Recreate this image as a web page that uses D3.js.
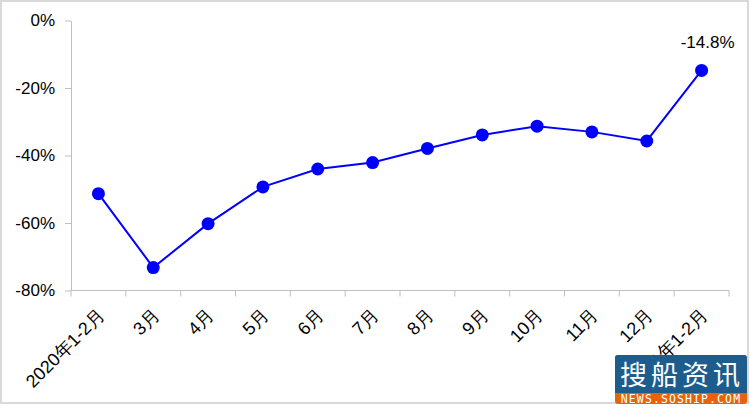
<!DOCTYPE html>
<html><head><meta charset="utf-8">
<script src="https://cdn.jsdelivr.net/npm/d3@7"></script>
<style>body{margin:0;background:#fff}svg{display:block}</style>
</head><body>
<script>
const categories = ["2020年1-2月","3月","4月","5月","6月","7月","8月","9月","10月","11月","12月","2021年1-2月"];
const values = [-51.3,-73.2,-60.2,-49.3,-44.0,-42.1,-37.9,-33.9,-31.3,-33.0,-35.7,-14.8];
const yTicks = [0,-20,-40,-60,-80];
const labelIndex = 11;
const labelText = "-14.8%";

const W=750,H=409;
const svg=d3.select("body").append("svg").attr("width",W).attr("height",H);
const font="'Liberation Sans', Arial, sans-serif";
svg.append("rect").attr("x",1).attr("y",1).attr("width",747).attr("height",402)
  .attr("fill","#fff").attr("stroke","#d9d9d9").attr("stroke-width",2);

const x=d3.scaleBand().domain(categories).range([71,729]);
const y=d3.scaleLinear().domain([-80,0]).range([290.5,20.5]);

const ya=svg.append("g").attr("transform","translate(71,0)")
  .call(d3.axisLeft(y).tickValues(yTicks).tickFormat(d=>d+"%").tickSize(6).tickSizeOuter(0));
ya.select(".domain").attr("stroke","#bfbfbf");
ya.selectAll(".tick line").attr("stroke","#bfbfbf");
ya.selectAll("text").attr("font-family",font).attr("font-size",17).attr("fill","#000").attr("x",-16);

const xa=svg.append("g").attr("transform","translate(0,290.5)");
xa.append("line").attr("x1",71).attr("x2",729).attr("stroke","#bfbfbf");
const bounds=categories.map(c=>x(c)).concat([x(categories[categories.length-1])+x.bandwidth()]);
xa.selectAll("line.t").data(bounds).join("line").attr("class","t")
  .attr("x1",d=>d).attr("x2",d=>d).attr("y1",0).attr("y2",6).attr("stroke","#bfbfbf");
xa.selectAll("text").data(categories).join("text")
  .attr("font-family",font).attr("font-size",18).attr("fill","#000")
  .attr("text-anchor","end")
  .attr("transform",d=>`translate(${x(d)+x.bandwidth()/2+7},${26}) rotate(-45)`)
  .text(d=>d);

const cx=(d,i)=>x(categories[i])+x.bandwidth()/2;
const line=d3.line().x((d,i)=>cx(d,i)).y(d=>y(d));
svg.append("path").datum(values).attr("d",line).attr("fill","none")
  .attr("stroke","#0000ff").attr("stroke-width",2);
svg.selectAll("circle.p").data(values).join("circle").attr("class","p")
  .attr("cx",(d,i)=>cx(d,i)).attr("cy",d=>y(d)).attr("r",6.5).attr("fill","#0000ff");

svg.append("text").attr("x",cx(null,labelIndex)+6).attr("y",y(values[labelIndex])-22)
  .attr("text-anchor","middle").attr("font-family",font).attr("font-size",17).text(labelText);

// watermark
const wm=svg.append("g");
wm.append("rect").attr("x",615).attr("y",355).attr("width",132).attr("height",49).attr("rx",3).attr("fill","#e8620c");
wm.append("rect").attr("x",615).attr("y",355).attr("width",132).attr("height",38).attr("rx",3).attr("fill","#1d5d8e");
wm.append("rect").attr("x",615).attr("y",388).attr("width",132).attr("height",5).attr("fill","#1d5d8e");
wm.append("text").attr("x",682).attr("y",385).attr("text-anchor","middle").attr("fill","#fff")
  .attr("font-family","'Noto Sans CJK SC', sans-serif").attr("font-size",27).attr("letter-spacing",4).text("搜船资讯");
wm.append("text").attr("x",681).attr("y",403).attr("text-anchor","middle").attr("fill","#fff")
  .attr("font-family","'DejaVu Sans Mono', monospace").attr("font-size",11.5).attr("letter-spacing",1.1).text("NEWS.SOSHIP.COM");
</script>
</body></html>
